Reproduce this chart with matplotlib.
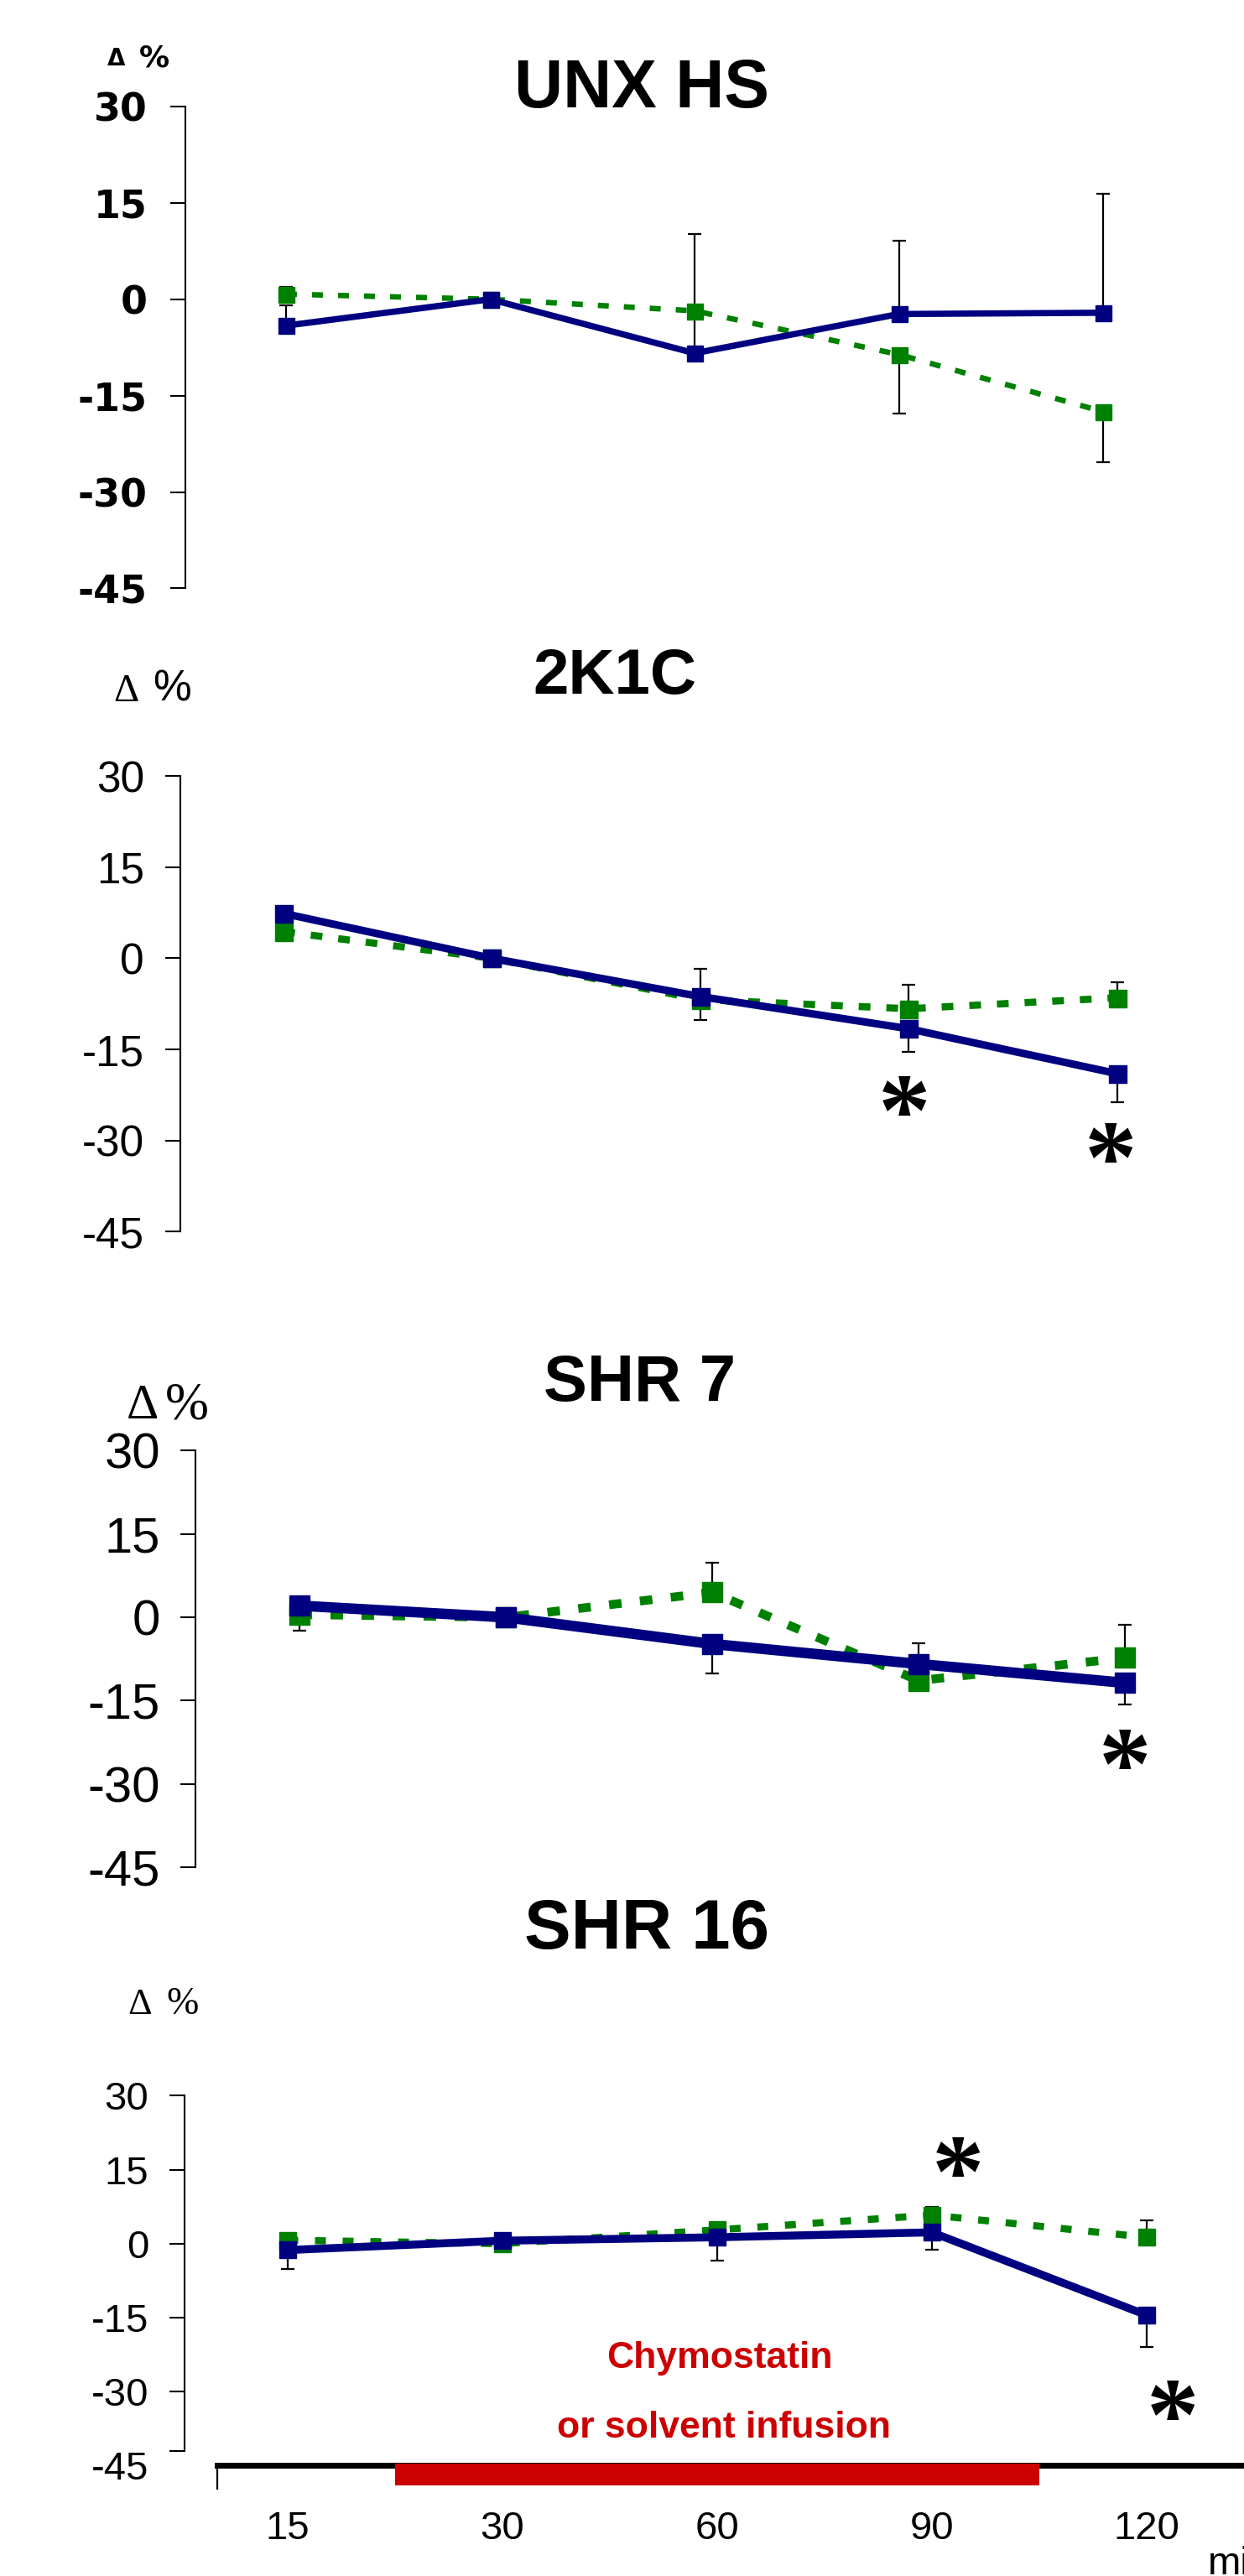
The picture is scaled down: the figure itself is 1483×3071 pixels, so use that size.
import numpy as np
import matplotlib
matplotlib.use('Agg')
import matplotlib.pyplot as plt
from matplotlib.transforms import offset_copy
from matplotlib.patches import Rectangle

# ---------------- data ----------------
categories = ['15', '30', '60', '90', '120']
ytick_values = [30, 15, 0, -15, -30, -45]
ytick_labels = ['30', '15', '0', '-15', '-30', '-45']
titles = ['UNX HS', '2K1C', 'SHR 7', 'SHR 16']

# UNX HS
unx_blue = [-4.1, 0.0, -8.4, -2.3, -2.1]
unx_blue_up = [3.1, 0.0, 18.6, 11.4, 18.5]
unx_blue_dn = [0.0, 0.0, 0.0, 0.0, 0.0]
unx_green = [0.8, 0.0, -1.8, -8.6, -17.5]
unx_green_up = [1.1, 0.0, 0.0, 0.0, 0.0]
unx_green_dn = [0.0, 0.0, 0.0, 9.2, 7.9]
unx_stars_x = []
unx_stars_y = []

# 2K1C
k2_blue = [7.4, 0.0, -6.3, -11.6, -19.0]
k2_blue_up = [0.0, 0.0, 0.0, 0.0, 0.0]
k2_blue_dn = [0.0, 0.0, 3.9, 3.8, 4.7]
k2_green = [4.4, 0.0, -6.8, -8.3, -6.5]
k2_green_up = [0.0, 0.0, 5.0, 4.0, 2.6]
k2_green_dn = [0.0, 0.0, 0.0, 0.0, 0.0]
k2_stars_x = [2.98, 3.97]
k2_stars_y = [-22.5, -30.2]

# SHR 7
shr7_blue = [2.1, 0.0, -4.8, -8.4, -11.8]
shr7_blue_up = [0.0, 0.0, 0.0, 3.8, 0.0]
shr7_blue_dn = [4.5, 0.0, 5.3, 0.0, 3.9]
shr7_green = [0.5, 0.0, 4.5, -11.4, -7.3]
shr7_green_up = [0.0, 0.0, 5.4, 0.0, 5.9]
shr7_green_dn = [0.0, 0.0, 0.0, 0.0, 0.0]
shr7_stars_x = [4.0]
shr7_stars_y = [-23.5]

# SHR 16
shr16_blue = [-1.3, 0.6, 1.3, 2.3, -14.5]
shr16_blue_up = [0.0, 0.0, 0.0, 0.0, 0.0]
shr16_blue_dn = [3.9, 0.0, 4.7, 3.6, 6.5]
shr16_green = [0.7, 0.0, 2.8, 5.8, 1.3]
shr16_green_up = [0.0, 0.0, 0.9, 1.6, 3.4]
shr16_green_dn = [0.0, 0.0, 0.0, 0.0, 0.0]
shr16_stars_x = [3.12, 4.12]
shr16_stars_y = [17.9, -31.5]

infusion_start = 0.5   # in category index units (between 15 and 30)
infusion_end = 3.5     # between 90 and 120
infusion_text = ['Chymostatin', 'or solvent infusion']

# ---------------- style ----------------
W, H = 1483, 3071
NAVY = '#000080'
GREEN = '#008000'
RED = '#CC0000'

fig = plt.figure(figsize=(W / 100, H / 100), dpi=100)


def fx(x):
    return x / W


def fy(y):
    return 1 - y / H


panels = [
    dict(title=titles[0], tpos=(765, 128), tsize=58,
         geom=(220.7, 127, 701.4, 341, 1315),
         tick_font=['DejaVu Sans'], tick_size=33, tick_weight='bold', pad=19,
         blue=(unx_blue, unx_blue_dn, unx_blue_up),
         green=(unx_green, unx_green_dn, unx_green_up),
         lw_b=7.5, lw_g=6.5, ms=19, dash=(13, 18),
         stars=(unx_stars_x, unx_stars_y),
         delta=dict(x=128, base=78, font=['DejaVu Sans'], size=20, weight='bold'),
         pct=dict(x=166, base=79, font=['DejaVu Sans'], size=26, weight='bold')),
    dict(title=titles[1], tpos=(733, 827), tsize=55,
         geom=(214.8, 925.3, 1468.2, 337.7, 1332),
         tick_font=['Liberation Sans'], tick_size=37, tick_weight='normal', pad=17.5,
         blue=(k2_blue, k2_blue_dn, k2_blue_up),
         green=(k2_green, k2_green_dn, k2_green_up),
         lw_b=9, lw_g=8.5, ms=21, dash=(14, 19),
         stars=(k2_stars_x, k2_stars_y),
         delta=dict(x=135, base=836, font=['Liberation Serif'], size=34, weight='normal'),
         pct=dict(x=182, base=836, font=['Liberation Sans'], size=37, weight='normal')),
    dict(title=titles[2], tpos=(762, 1670), tsize=56,
         geom=(233, 1729.5, 2226, 357, 1341),
         tick_font=['Liberation Sans Narrow', 'Liberation Sans'], tick_size=43,
         tick_weight='normal', pad=17,
         blue=(shr7_blue, shr7_blue_dn, shr7_blue_up),
         green=(shr7_green, shr7_green_dn, shr7_green_up),
         lw_b=12.5, lw_g=10.5, ms=24, dash=(15, 22),
         stars=(shr7_stars_x, shr7_stars_y),
         delta=dict(x=151, base=1691, font=['Liberation Serif'], size=43, weight='normal'),
         pct=dict(x=197, base=1692, font=['Liberation Serif'], size=45, weight='normal')),
    dict(title=titles[3], tpos=(771, 2323), tsize=60,
         geom=(219.5, 2498.5, 2939.3, 342.5, 1367),
         tick_font=['Liberation Sans'], tick_size=34, tick_weight='normal', pad=17,
         blue=(shr16_blue, shr16_blue_dn, shr16_blue_up),
         green=(shr16_green, shr16_green_dn, shr16_green_up),
         lw_b=9.5, lw_g=8.5, ms=20, dash=(13, 20),
         stars=(shr16_stars_x, shr16_stars_y),
         delta=dict(x=152, base=2401, font=['Liberation Serif'], size=32, weight='normal'),
         pct=dict(x=198, base=2401, font=['Liberation Serif'], size=33, weight='normal')),
]

STAR_PT = 90
axes = []
for i, p in enumerate(panels):
    sx, y30, y45, x0, x4 = p['geom']
    d = (x4 - x0) / 4.0
    ax = fig.add_axes([fx(sx), fy(y45), (W - sx) / W, (y45 - y30) / H])
    ax.set_xlim((sx - x0) / d, (W - x0) / d)
    ax.set_ylim(-45, 30)
    ax.patch.set_visible(False)
    for s in ['top', 'right', 'bottom']:
        ax.spines[s].set_visible(False)
    ax.spines['left'].set_linewidth(1.5)
    ax.set_xticks([])
    ax.set_yticks(ytick_values)
    ax.set_yticklabels(ytick_labels, fontfamily=p['tick_font'],
                       fontsize=p['tick_size'], fontweight=p['tick_weight'])
    ax.tick_params(axis='y', direction='out', length=13.3, width=1.5, pad=p['pad'])

    x = np.arange(len(categories))
    # error bars
    for (vals, dn, up) in [p['green'], p['blue']]:
        vals = np.array(vals); dn = np.array(dn); up = np.array(up)
        idx = np.where((dn > 0) | (up > 0))[0]
        if len(idx):
            ax.errorbar(x[idx], vals[idx], yerr=[dn[idx], up[idx]], fmt='none',
                        ecolor='black', elinewidth=1.6, capsize=5.5, capthick=1.6,
                        zorder=2, clip_on=False)
    # lines
    lwg = p['lw_g'] * 0.72
    on, off = p['dash']
    ax.plot(x, p['green'][0], color=GREEN, lw=lwg,
            linestyle=(0, (on / p['lw_g'], off / p['lw_g'])),
            marker='s', ms=p['ms'] * 0.72, mec=GREEN, mfc=GREEN,
            clip_on=False, zorder=3)
    ax.plot(x, p['blue'][0], color=NAVY, lw=p['lw_b'] * 0.72, linestyle='-',
            marker='s', ms=p['ms'] * 0.72, mec=NAVY, mfc=NAVY,
            clip_on=False, zorder=4)
    # significance stars
    sxs, sys_ = p['stars']
    tr = offset_copy(ax.transData, fig=fig, x=0, y=-0.48 * STAR_PT, units='points')
    for a, b in zip(sxs, sys_):
        ax.text(a, b, '*', transform=tr, ha='center', va='baseline',
                fontsize=STAR_PT, fontfamily=['Liberation Serif'], fontweight='bold',
                color='black', clip_on=False, zorder=5)

    # title
    fig.text(fx(p['tpos'][0]), fy(p['tpos'][1]), p['title'], ha='center',
             va='baseline', fontsize=p['tsize'], fontweight='bold',
             fontfamily=['Liberation Sans'])
    # delta %
    dl = p['delta']; pc = p['pct']
    fig.text(fx(dl['x']), fy(dl['base']), '\u0394', ha='left', va='baseline',
             fontsize=dl['size'], fontfamily=dl['font'], fontweight=dl['weight'])
    fig.text(fx(pc['x']), fy(pc['base']), '%', ha='left', va='baseline',
             fontsize=pc['size'], fontfamily=pc['font'], fontweight=pc['weight'])
    axes.append(ax)

# ---- bottom panel: time axis with infusion bar ----
ax = axes[-1]
p = panels[-1]
sx, y30, y45, x0, x4 = p['geom']
d = (x4 - x0) / 4.0
ax_h_px = y45 - y30
# -45 tick shortened in the original: spine ends at -42
ax.spines['left'].set_bounds(-42, 30)
ax.yaxis.get_major_ticks()[-1].tick1line.set_visible(False)
ax.set_yticks([-42], minor=True)
ax.tick_params(axis='y', which='minor', direction='out', length=13.3, width=1.5)

ax.spines['bottom'].set_visible(True)
ax.spines['bottom'].set_linewidth(5)
ax.spines['bottom'].set_bounds((259 - x0) / d, (W - x0) / d)
ax.set_xticks(np.arange(len(categories)))
ax.set_xticklabels(categories, fontfamily=['Liberation Sans'], fontsize=34)
ax.tick_params(axis='x', length=0, pad=39)

xt = ax.get_xaxis_transform()
ax.plot([(259 - x0) / d, (259 - x0) / d], [0, -28 / ax_h_px], color='black',
        lw=1.6, transform=xt, clip_on=False, zorder=2)
ax.add_patch(Rectangle((infusion_start, -23.5 / ax_h_px),
                       infusion_end - infusion_start, 26 / ax_h_px,
                       transform=xt, facecolor=RED, edgecolor='none',
                       clip_on=False, zorder=3))

fig.text(fx(858), fy(2823), infusion_text[0], ha='center', va='baseline',
         fontsize=32, fontweight='bold', fontfamily=['Liberation Sans'], color=RED)
fig.text(fx(863), fy(2906), infusion_text[1], ha='center', va='baseline',
         fontsize=32, fontweight='bold', fontfamily=['Liberation Sans'], color=RED)
fig.text(fx(1440), fy(3069), 'min', ha='left', va='baseline',
         fontsize=34, fontfamily=['Liberation Sans'])

fig.savefig('out.png', dpi=100, facecolor='white')
